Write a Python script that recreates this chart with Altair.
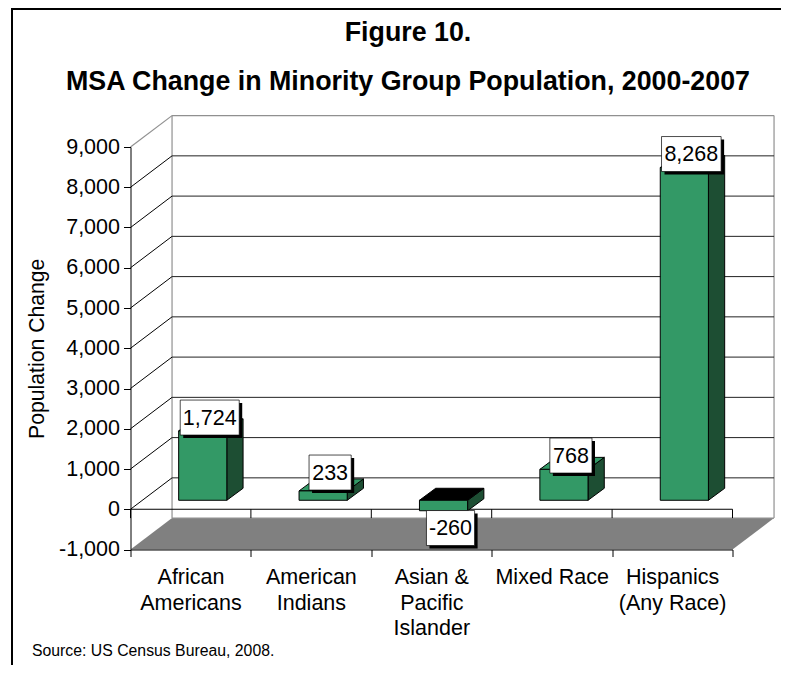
import json
import altair as alt
import pandas as pd

categories = [["African", "Americans"], ["American", "Indians"], ["Asian &", "Pacific", "Islander"], ["Mixed Race"], ["Hispanics", "(Any Race)"]]
values = [1724, 233, -260, 768, 8268]
label_texts = ["1,724", "233", "-260", "768", "8,268"]
label_centers = [2278, 912, -467, 1334, 8825]
label_widths = [0.49, 0.35, 0.40, 0.35, 0.495]
y_ticks = [-1000, 0, 1000, 2000, 3000, 4000, 5000, 6000, 7000, 8000, 9000]
x_ticks = [0, 1, 2, 3, 4, 5]

# 3-D depth of the box, in axis units
WALL_DX, WALL_DY = 0.345, 780
BAR_BASE, BAR_DX, BAR_DY = 223, 0.135, 298
BAR_LEFT, BAR_RIGHT = 0.4, 0.8
LABEL_H = 870
GREEN, DARK = "#339966", "#1d4e33"
FONT = "Liberation Sans"

x_scale = alt.Scale(domain=[0, 5], nice=False, zero=False)
y_scale = alt.Scale(domain=[-1000, 9000], nice=False, zero=False)
x_axis = alt.Axis(values=x_ticks, title=None, grid=False, tickSize=7, tickColor="black",
                  domainColor="black", labelFont=FONT, labelFontSize=21.5, labelColor="black",
                  labelLineHeight=25.5, labelOffset=60, labelPadding=10, labelOverlap=False,
                  labelBound=False, labelFlush=False, zindex=1,
                  labelExpr="(" + json.dumps(categories + [[""]]) + ")[datum.value]")
y_axis = alt.Axis(values=y_ticks, grid=False, title="Population Change",
                  labelExpr="replace(format(datum.value, ',.0f'), '\u2212', '-')",
                  labelFont=FONT, labelFontSize=21.5, labelColor="black", labelPadding=4,
                  tickSize=7, tickColor="black", domainColor="black", titleFont=FONT,
                  titleFontSize=21.2, titleFontWeight="normal", titleColor="black",
                  titlePadding=11, zindex=1)
X = alt.X("x:Q", scale=x_scale, axis=x_axis)
Y = alt.Y("y:Q", scale=y_scale, axis=y_axis)

rows_front, rows_side, rows_top, rows_lab = [], [], [], []
for i, v in enumerate(values):
    l, r = i + BAR_LEFT, i + BAR_RIGHT
    lo, hi = BAR_BASE + min(v, 0), BAR_BASE + max(v, 0)
    rows_front.append({"x": l, "x2": r, "y": lo, "y2": hi})
    rows_side += [
        {"bar": i, "x": r, "y": lo, "y2": hi},
        {"bar": i, "x": r + BAR_DX, "y": lo + BAR_DY, "y2": hi + BAR_DY},
    ]
    rows_top += [
        {"bar": i, "c": "black" if v < 0 else GREEN, "y": hi, "x": l, "x2": r},
        {"bar": i, "c": "black" if v < 0 else GREEN, "y": hi + BAR_DY, "x": l + BAR_DX, "x2": r + BAR_DX},
    ]
    cx = i + BAR_LEFT + 0.2 + 0.058
    rows_lab.append({
        "t": label_texts[i], "x": cx,
        "x0": cx - label_widths[i] / 2, "x2": cx + label_widths[i] / 2,
        "y": label_centers[i],
        "y0": label_centers[i] - LABEL_H / 2, "y2": label_centers[i] + LABEL_H / 2,
    })

floor = alt.Chart(pd.DataFrame([
    {"y": -1000, "x": 0, "x2": 5},
    {"y": -1000 + WALL_DY, "x": WALL_DX, "x2": 5 + WALL_DX},
])).mark_area(orient="horizontal", color="#808080").encode(x=X, x2="x2:Q", y=Y)

def seg(rows, color, width=1):
    return alt.Chart(pd.DataFrame(rows)).mark_rule(color=color, strokeWidth=width).encode(
        x=X, y=Y, x2="x2:Q", y2="y2:Q")

back_lines = seg([{"x": WALL_DX, "x2": 5 + WALL_DX, "y": v + WALL_DY, "y2": v + WALL_DY} for v in y_ticks[1:-1]], "#222222")
side_lines = seg([{"x": 0, "x2": WALL_DX, "y": v, "y2": v + WALL_DY} for v in y_ticks[1:-1]], "black")
wall_edges = seg([
    {"x": 0, "x2": WALL_DX, "y": 9000, "y2": 9000 + WALL_DY},
    {"x": WALL_DX, "x2": 5 + WALL_DX, "y": 9000 + WALL_DY, "y2": 9000 + WALL_DY},
    {"x": WALL_DX, "x2": WALL_DX, "y": -1000 + WALL_DY, "y2": 9000 + WALL_DY},
    {"x": 5 + WALL_DX, "x2": 5 + WALL_DX, "y": -1000 + WALL_DY, "y2": 9000 + WALL_DY},
    {"x": WALL_DX, "x2": 5 + WALL_DX, "y": -1000 + WALL_DY, "y2": -1000 + WALL_DY},
], "#909090", 1.2)
zero_line = seg([{"x": 0, "x2": 5, "y": 0, "y2": 0}], "black")
zero_ticks = seg([{"x": t, "x2": t, "y": 0, "y2": -1000 + WALL_DY} for t in x_ticks], "black")

side = alt.Chart(pd.DataFrame(rows_side)).mark_area(
    orient="vertical", color=DARK, stroke="black", strokeWidth=1
).encode(x=X, y=Y, y2="y2:Q", detail="bar:N")
top = alt.Chart(pd.DataFrame(rows_top)).mark_area(
    orient="horizontal", stroke="black", strokeWidth=1
).encode(x=X, x2="x2:Q", y=Y, detail="bar:N", fill=alt.Fill("c:N", scale=None))
front = alt.Chart(pd.DataFrame(rows_front)).mark_rect(
    color=GREEN, stroke="black", strokeWidth=1
).encode(x=X, x2="x2:Q", y=Y, y2="y2:Q")

lab_df = pd.DataFrame(rows_lab)
X0 = alt.X("x0:Q", scale=x_scale, axis=x_axis)
Y0 = alt.Y("y0:Q", scale=y_scale, axis=y_axis)
shadow = alt.Chart(lab_df).mark_rect(color="black", xOffset=3, x2Offset=3, yOffset=3, y2Offset=3).encode(
    x=X0, x2="x2:Q", y=Y0, y2="y2:Q")
box = alt.Chart(lab_df).mark_rect(fill="white", stroke="black", strokeWidth=0.7).encode(x=X0, x2="x2:Q", y=Y0, y2="y2:Q")
text = alt.Chart(lab_df).mark_text(font=FONT, fontSize=21.5, color="black", dy=1).encode(x=X, y=Y, text="t:N")

def note(t, x, y, size, bold=False, align="left"):
    return alt.Chart(pd.DataFrame({"t": [t]})).mark_text(
        font=FONT, fontSize=size, color="black", align=align, baseline="middle",
        fontWeight="bold" if bold else "normal",
    ).encode(x=alt.value(x), y=alt.value(y), text="t:N")

title1 = note("Figure 10.", 277.5, -114, 26.8, True, "center")
title2 = note("MSA Change in Minority Group Population, 2000-2007", 277.5, -65, 26.8, True, "center")
source = note("Source: US Census Bureau, 2008.", -98.5, 504, 15.8)

frame = alt.Chart(pd.DataFrame({"a": [0]})).mark_rule(color="black", strokeWidth=2)
frame_top = frame.encode(x=alt.value(-119.5), x2=alt.value(651), y=alt.value(-138))
frame_left = frame.encode(x=alt.value(-118.5), y=alt.value(-139), y2=alt.value(518))

chart = alt.layer(
    floor, wall_edges, back_lines, side_lines, zero_line, zero_ticks,
    side, top, front, shadow, box, text, title1, title2, source, frame_top, frame_left,
).properties(
    width=602, height=402.5, background="white",
    padding={"left": 122.5, "top": 139, "right": 48.5, "bottom": 115.5},
    autosize=alt.AutoSizeParams(type="none"),
).configure_view(stroke=None, strokeWidth=0)

chart.save("out.html", embed_options={"renderer": "svg", "actions": False})
